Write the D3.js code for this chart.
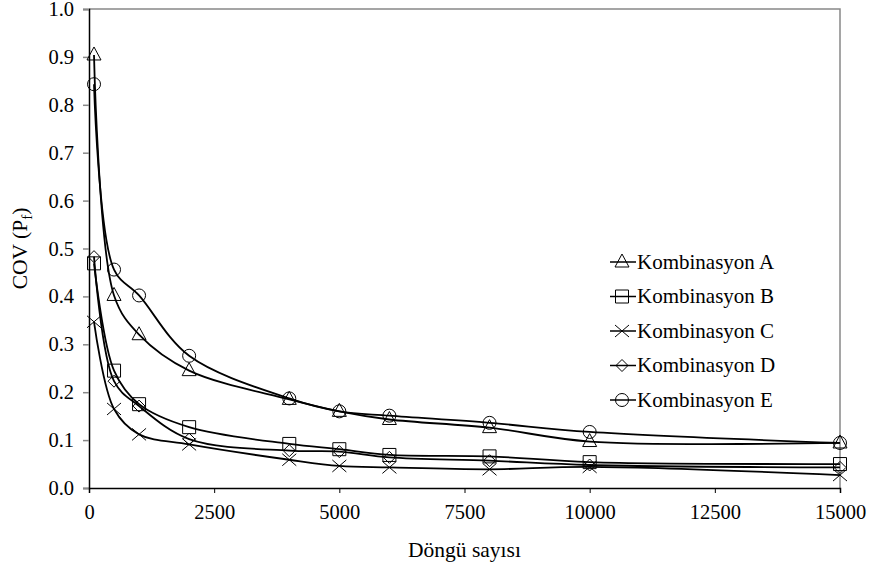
<!DOCTYPE html>
<html lang="tr">
<head>
<meta charset="utf-8">
<title>COV (Pf) - Döngü sayısı</title>
<style>
body { margin: 0; background: #fff; }
</style>
<script src="https://cdn.jsdelivr.net/npm/d3@7/dist/d3.min.js"></script>
</head>
<body>
<div id="chart"></div>
<script>
// cycle counts and COV values
var cycles = [100, 500, 1000, 2000, 4000, 5000, 6000, 8000, 10000, 15000];
var covA = [0.904, 0.402, 0.320, 0.245, 0.185, 0.160, 0.143, 0.126, 0.097, 0.094];
var covB = [0.469, 0.245, 0.175, 0.127, 0.092, 0.081, 0.069, 0.066, 0.054, 0.050];
var covC = [0.347, 0.165, 0.112, 0.091, 0.059, 0.046, 0.043, 0.039, 0.044, 0.027];
var covD = [0.483, 0.223, 0.171, 0.102, 0.078, 0.076, 0.064, 0.057, 0.048, 0.043];
var covE = [0.843, 0.456, 0.402, 0.276, 0.187, 0.160, 0.151, 0.136, 0.117, 0.094];
var seriesNames = ["Kombinasyon A", "Kombinasyon B", "Kombinasyon C", "Kombinasyon D", "Kombinasyon E"];
var seriesMarkers = ["triangle", "square", "cross", "diamond", "circle"];
var xTicks = [0, 2500, 5000, 7500, 10000, 12500, 15000];
var yTicks = [0, 0.1, 0.2, 0.3, 0.4, 0.5, 0.6, 0.7, 0.8, 0.9, 1.0];

var allCov = [covA, covB, covC, covD, covE];
var serif = "Liberation Serif";

var width = 869, height = 569;
var margin = {left: 89, right: 29, top: 9, bottom: 81};

var svg = d3.select("#chart").append("svg")
    .attr("width", width)
    .attr("height", height);

var x = d3.scaleLinear().domain([0, 15000]).range([margin.left, width - margin.right]);
var y = d3.scaleLinear().domain([0, 1]).range([height - margin.bottom, margin.top]);

// frame (top and right, grey)
svg.append("path")
    .attr("d", "M" + x(0) + "," + y(1) + "H" + x(15000) + "V" + y(0))
    .attr("fill", "none")
    .attr("stroke", "#888")
    .attr("stroke-width", 1.5);

// y axis
var yAxis = svg.append("g")
    .attr("transform", "translate(" + x(0) + ",0)")
    .call(d3.axisLeft(y).tickValues(yTicks).tickFormat(d3.format(".1f")).tickSize(6).tickPadding(9));
yAxis.select(".domain").attr("stroke", "#000").attr("stroke-width", 1.5);
yAxis.selectAll(".tick line").attr("stroke", "#888").attr("stroke-width", 1.5);
yAxis.selectAll("text").style("font-family", serif).style("font-size", "20.5px").attr("fill", "#000");

// x axis
var xAxis = svg.append("g")
    .attr("transform", "translate(0," + y(0) + ")")
    .call(d3.axisBottom(x).tickValues(xTicks).tickFormat(d3.format("d")).tickSize(5).tickPadding(11));
xAxis.select(".domain").attr("stroke", "#000").attr("stroke-width", 1.5);
xAxis.selectAll(".tick line").attr("stroke", "#000").attr("stroke-width", 1);
xAxis.selectAll("text").style("font-family", serif).style("font-size", "20.5px").attr("fill", "#000");

// axis titles
svg.append("text")
    .attr("x", (x(0) + x(15000)) / 2)
    .attr("y", 557)
    .attr("text-anchor", "middle")
    .style("font-family", serif)
    .style("font-size", "21.5px")
    .text("Döngü sayısı");

var yTitle = svg.append("text")
    .attr("transform", "translate(27," + y(0.5) + ") rotate(-90)")
    .attr("text-anchor", "middle")
    .style("font-family", serif)
    .style("font-size", "21.5px");
yTitle.append("tspan").text("COV (P");
yTitle.append("tspan").attr("dy", 5).style("font-size", "15px").text("f");
yTitle.append("tspan").attr("dy", -5).text(")");

// marker shapes
function markerPath(type) {
    switch (type) {
        case "triangle": return "M0,-8L7,5L-7,5Z";
        case "square": return "M-6.5,-6.5H6.5V6.5H-6.5Z";
        case "cross": return "M-7,-6L7,6M-7,6L7,-6";
        case "diamond": return "M0,-6L6,0L0,6L-6,0Z";
        case "circle": return d3.arc()({innerRadius: 0, outerRadius: 6.5, startAngle: 0, endAngle: 2 * Math.PI});
    }
}

var line = d3.line()
    .x(function(d) { return x(d[0]); })
    .y(function(d) { return y(d[1]); })
    .curve(d3.curveCatmullRom.alpha(0.5));

allCov.forEach(function(vals, s) {
    var pts = cycles.map(function(c, i) { return [c, vals[i]]; });
    var g = svg.append("g");
    g.append("path")
        .attr("d", line(pts))
        .attr("fill", "none")
        .attr("stroke", "#000")
        .attr("stroke-width", 1.8);
    g.selectAll("path.mk")
        .data(pts)
        .enter()
        .append("path")
            .attr("class", "mk")
            .attr("transform", function(d) { return "translate(" + x(d[0]) + "," + y(d[1]) + ")"; })
            .attr("d", markerPath(seriesMarkers[s]))
            .attr("fill", "none")
            .attr("stroke", "#000")
            .attr("stroke-width", 1);
});

// legend
var legend = svg.append("g").attr("transform", "translate(610,262)");
seriesNames.forEach(function(name, i) {
    var row = legend.append("g").attr("transform", "translate(0," + (i * 34.5) + ")");
    row.append("line")
        .attr("x1", 0).attr("x2", 26)
        .attr("stroke", "#000").attr("stroke-width", 1.5);
    row.append("path")
        .attr("transform", "translate(12,0)")
        .attr("d", markerPath(seriesMarkers[i]))
        .attr("fill", "none")
        .attr("stroke", "#000")
        .attr("stroke-width", 1);
    row.append("text")
        .attr("x", 27)
        .attr("dy", "0.33em")
        .style("font-family", serif)
        .style("font-size", "21px")
        .text(name);
});
</script>
</body>
</html>
